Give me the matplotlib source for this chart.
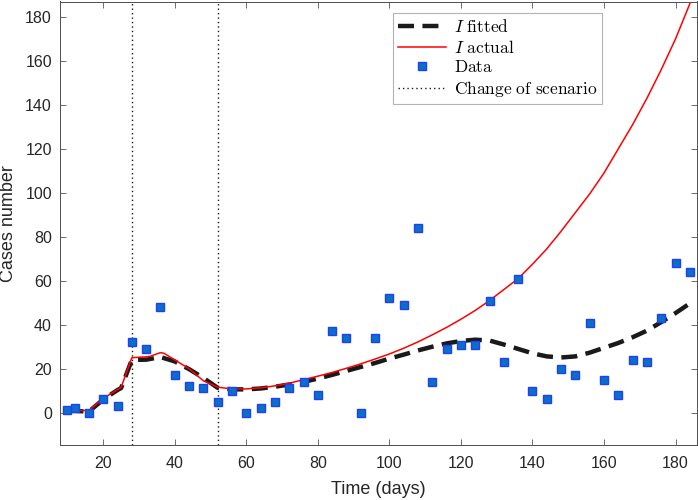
import matplotlib
matplotlib.use("Agg")
import matplotlib.pyplot as plt

# ---- data ----
data_days = [10, 12, 16, 20, 24, 28, 32, 36, 40, 44, 48, 52, 56, 60, 64, 68, 72, 76, 80, 84,
             88, 92, 96, 100, 104, 108, 112, 116, 120, 124, 128, 132, 136, 140, 144, 148, 152,
             156, 160, 164, 168, 172, 176, 180, 184]
data_cases = [1, 2, 0, 6, 3, 32, 29, 48, 17, 12, 11, 5, 10, 0, 2, 5, 11, 14, 8, 37,
              34, 0, 34, 52, 49, 84, 14, 29, 31, 31, 51, 23, 61, 10, 6, 20, 17,
              41, 15, 8, 24, 23, 43, 68, 64]

actual_days = [10, 12, 16, 20, 24, 25, 28, 32, 33, 36, 37, 40, 44, 48, 52, 56, 60, 64, 68, 72,
               76, 80, 84, 88, 92, 96, 100, 104, 108, 112, 116, 120, 124, 128, 132, 136, 140,
               144, 148, 152, 156, 160, 164, 168, 172, 176, 180, 184]
actual_I = [1.2, 1.0, 1.0, 6.5, 10.5, 11.5, 25.0, 25.4, 25.6, 27.3, 27.0, 24.0, 20.0, 14.5, 11.6,
            10.8, 10.8, 11.3, 12.2, 13.4, 15.0, 16.6, 18.3, 20.2, 22.2, 24.4, 26.7, 29.3, 32.2,
            35.4, 38.8, 42.5, 46.5, 51.0, 56.0, 61.0, 67.5, 74.5, 82.5, 91.0, 99.5, 109.0,
            120.0, 131.0, 143.0, 156.0, 170.0, 186.0]

fitted_days = [10, 12, 16, 20, 24, 25, 28, 32, 36, 40, 44, 48, 52, 56, 60, 64, 68, 72, 76, 80,
               84, 88, 92, 96, 100, 104, 108, 112, 116, 120, 124, 128, 132, 136, 140, 144, 148,
               152, 156, 160, 164, 168, 172, 176, 180, 184]
fitted_I = [0.8, 0.8, 0.5, 6.0, 10.3, 11.2, 24.0, 24.1, 25.3, 23.3, 19.8, 15.8, 11.3, 10.6, 10.6,
            11.0, 11.8, 12.8, 14.0, 15.5, 17.2, 19.0, 20.8, 22.6, 24.6, 26.4, 28.3, 30.0, 31.5,
            32.6, 33.2, 32.8, 31.0, 29.0, 27.0, 25.6, 25.1, 25.6, 27.3, 29.5, 31.7, 34.3, 37.3,
            41.2, 45.3, 49.7]

scenario_changes = [28, 52]

xticks = [20, 40, 60, 80, 100, 120, 140, 160, 180]
yticks = [0, 20, 40, 60, 80, 100, 120, 140, 160, 180]

# ---- plot ----
plt.rcParams['mathtext.fontset'] = 'cm'
plt.rcParams['font.family'] = ['Liberation Sans', 'DejaVu Sans']

W, H = 698, 500
ax_l, ax_r, ax_b, ax_t = 60.3, 697, 55, 498.5
fig = plt.figure(figsize=(W / 100, H / 100), dpi=100)
ax = fig.add_axes([ax_l / W, ax_b / H, (ax_r - ax_l) / W, (ax_t - ax_b) / H])

axcol = '#262626'

ax.plot(fitted_days, fitted_I, color='#1a1a1a', lw=3.2, ls=(0, (3.6, 1.9)),
        label=r'$I\ \mathrm{fitted}$', zorder=3)
ax.plot(actual_days, actual_I, color='#ff0000', lw=1.1, label=r'$I\ \mathrm{actual}$', zorder=4)
ax.plot(data_days, data_cases, ls='none', marker='s', ms=5.6, mfc='#0b6fc4', mec='#1f3fff',
        mew=1.0, label=r'$\mathrm{Data}$', zorder=5)
for i, d in enumerate(scenario_changes):
    ax.axvline(d, color='#1a1a1a', lw=1.0, ls=(0, (1, 2.2)),
               label=r'$\mathrm{Change\ of\ scenario}$' if i == 0 else None, zorder=2)

ax.set_xlim(8, 186)
ax.set_ylim(-14.7, 187)
ax.set_xticks(xticks)
ax.set_yticks(yticks)
ax.tick_params(direction='in', which='both', top=True, right=True, length=4.5, width=0.6,
               colors='#555555', labelsize=11.5, labelcolor=axcol)
ax.tick_params(axis='x', pad=8)
ax.tick_params(axis='y', pad=6)
for s in ax.spines.values():
    s.set_color('#4d4d4d')
    s.set_linewidth(0.7)

ax.set_xlabel('Time (days)', fontsize=13, color=axcol, labelpad=7)
ax.set_ylabel('Cases number', fontsize=13, color=axcol, labelpad=6)

leg_x = (393 - ax_l) / (ax_r - ax_l)
leg_y = ((H - 13) - ax_b) / (ax_t - ax_b)
leg = ax.legend(loc='upper left', bbox_to_anchor=(leg_x, leg_y),
                fontsize=12.5, frameon=True, fancybox=False, handlelength=2.75, handletextpad=0.45,
                borderpad=0.3, labelspacing=0.2, borderaxespad=0)
leg.get_frame().set_edgecolor('#a0a0a0')
leg.get_frame().set_linewidth(0.8)

fig.savefig('out.png', dpi=100)
